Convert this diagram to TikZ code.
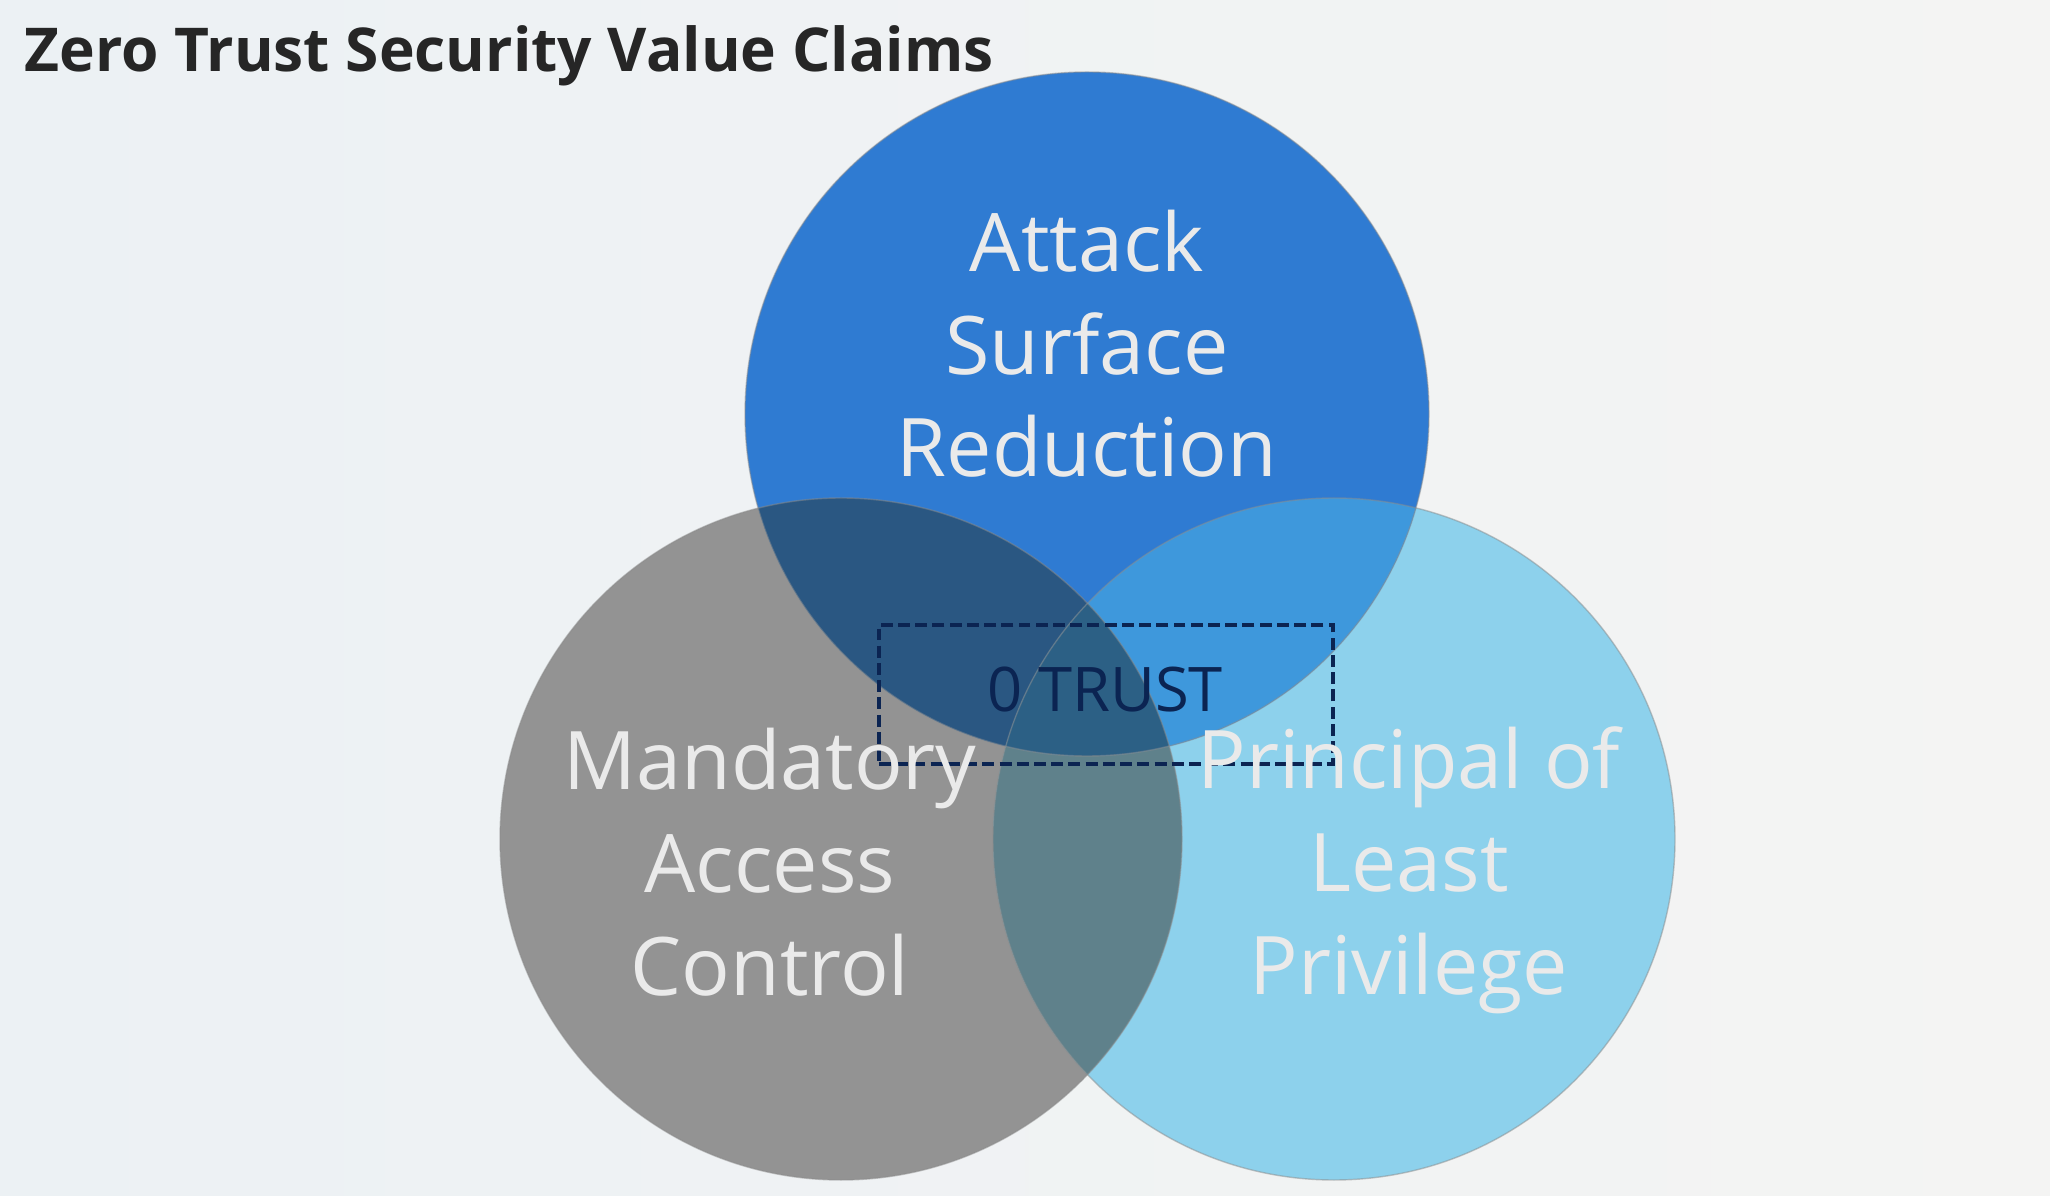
\documentclass[tikz,border=0pt]{standalone}
\usepackage{fontspec}
\setmainfont{Open Sans}
\usetikzlibrary{positioning,backgrounds}

\definecolor{bgA}{HTML}{ECF1F4}
\definecolor{bgB}{HTML}{F4F4F3}
\definecolor{topblue}{HTML}{2F7BD2}
\definecolor{leftgray}{HTML}{939393}
\definecolor{rightblue}{HTML}{8DD1EC}
\definecolor{tlmix}{HTML}{2A5782}
\definecolor{trmix}{HTML}{3E98DC}
\definecolor{lrmix}{HTML}{5F818B}
\definecolor{allmix}{HTML}{2C6085}
\definecolor{navy}{HTML}{0B2452}
\definecolor{titlegray}{HTML}{262626}
\definecolor{claimtext}{HTML}{EAEAEA}

\begin{document}
\begin{tikzpicture}[
  claim/.style={font=\fontsize{23}{29.3}\selectfont, text=claimtext, align=center, anchor=base, inner sep=0pt},
  edge/.style={draw=black!45, draw opacity=0.5, line width=0.4pt},
  trustbox/.style={draw=navy, line width=1.1pt, dash pattern=on 3.4pt off 1.5pt, minimum width=4.54cm, minimum height=1.39cm, inner sep=0pt},
  trusttext/.style={font=\fontsize{17.5}{20}\selectfont, text=navy, anchor=base, inner sep=0pt}
]
% Background
\shade[left color=bgA, right color=bgB] (0,0) rectangle (20.5,-11.96);
\useasboundingbox (0,0) rectangle (20.5,-11.96);
% Title
\node[font=\bfseries\fontsize{17.2}{21}\selectfont, text=titlegray, anchor=base west, inner sep=0pt] (title) at (0.24,-0.72) {Zero Trust Security Value Claims};
% Circle centres
\coordinate (top) at (10.87,-4.14);
\coordinate (left) at (8.41,-8.39);
\coordinate (right) at (13.34,-8.39);
% Plain circles
\fill[leftgray] (left) circle (3.41);
\fill[rightblue] (right) circle (3.41);
\fill[topblue] (top) circle (3.42);
% Overlaps
\begin{scope}
  \clip (left) circle (3.41);
  \fill[tlmix] (top) circle (3.42);
  \fill[lrmix] (right) circle (3.41);
\end{scope}
\begin{scope}
  \clip (right) circle (3.41);
  \fill[trmix] (top) circle (3.42);
\end{scope}
\begin{scope}
  \clip (left) circle (3.41);
  \clip (right) circle (3.41);
  \fill[allmix] (top) circle (3.42);
\end{scope}
% Thin rims
\draw[edge] (left) circle (3.41);
\draw[edge] (right) circle (3.41);
\draw[edge] (top) circle (3.42);
% Centre box
\node[trustbox] (zt) at (11.06,-6.945) {};
\node[trusttext] (ztlabel) at (11.05,-7.12) {0 TRUST};
% Claims (anchor = baseline of last line)
\node[claim] (asr) at (10.87,-4.77) {Attack\\Surface\\Reduction};
\node[claim] (mac) at (7.70,-9.95) {Mandatory\\Access\\Control};
\node[claim] (pol) at (14.09,-9.94) {Principal of\\Least\\Privilege};
\end{tikzpicture}
\end{document}
